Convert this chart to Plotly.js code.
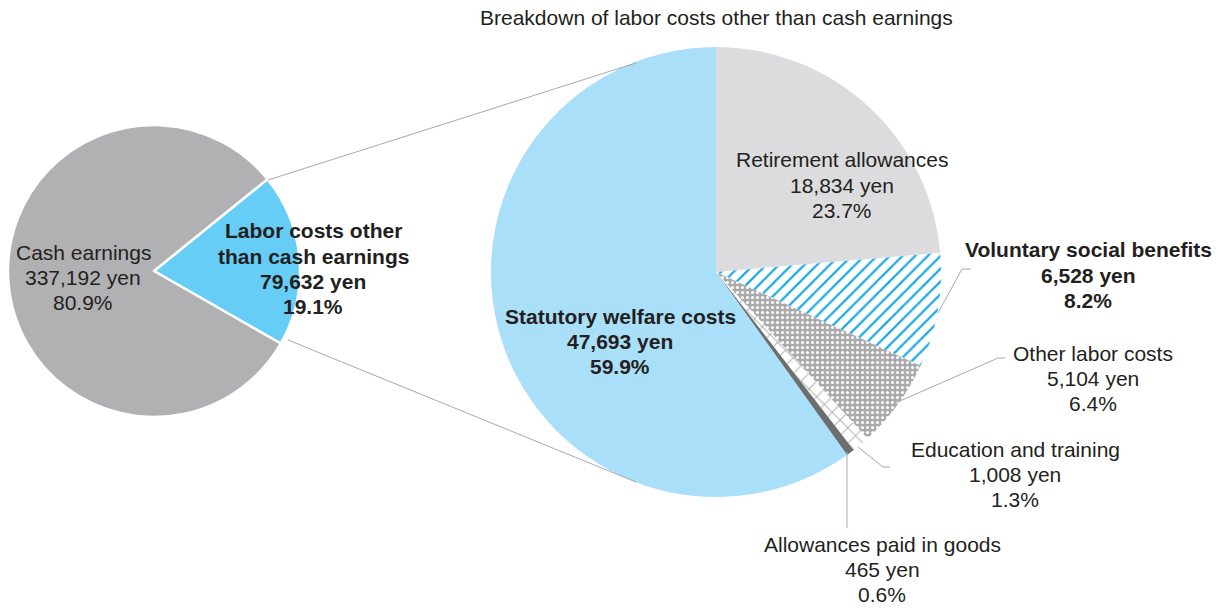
<!DOCTYPE html>
<html>
<head>
<meta charset="utf-8">
<script src="https://cdn.plot.ly/plotly-3.0.1.min.js"></script>
<style>
  html, body { margin: 0; padding: 0; background: #ffffff; }
  #chart { width: 1219px; height: 608px; }
</style>
</head>
<body>
<div id="chart"></div>
<script>
// ---- Data ----
const outerLabels = ["Labor costs other than cash earnings", "Cash earnings"];
const outerValues = [79632, 337192];
const outerPercents = ["19.1%", "80.9%"];

const breakdownLabels = ["Retirement allowances", "Voluntary social benefits", "Other labor costs",
  "Education and training", "Allowances paid in goods", "Statutory welfare costs"];
const breakdownValues = [18834, 6528, 5104, 1008, 465, 47693];
const breakdownPercents = ["23.7%", "8.2%", "6.4%", "1.3%", "0.6%", "59.9%"];

const chartTitle = "Breakdown of labor costs other than cash earnings";

// ---- Helpers ----
const W = 1219, H = 608;
const px = x => x / W;
const py = y => 1 - y / H;
const fmt = v => v.toLocaleString("en-US") + " yen";
const FONT = "Liberation Sans, Arial, Helvetica, sans-serif";
const TXT = "#231f20";
const FS = 21;
const LH = 25;

const outerTrace = {
  type: "pie",
  labels: outerLabels,
  values: outerValues,
  sort: false,
  direction: "clockwise",
  rotation: 51,
  textinfo: "none",
  hoverinfo: "skip",
  showlegend: false,
  domain: { x: [px(8), px(300)], y: [py(417), py(125)] },
  marker: { colors: ["#66cdf6", "#b1b1b3"], line: { color: "#ffffff", width: 2.5 } }
};

const innerTrace = {
  type: "pie",
  labels: breakdownLabels,
  values: breakdownValues,
  sort: false,
  direction: "clockwise",
  rotation: 0,
  textinfo: "none",
  hoverinfo: "skip",
  showlegend: false,
  domain: { x: [px(491), px(941)], y: [py(497), py(47)] },
  marker: {
    colors: ["#dcdcde", "#ffffff", "#aaaaac", "#ffffff", "#6d6e70", "#a9dff8"],
    line: { color: "#ffffff", width: 0 },
    pattern: {
      shape: ["", "/", ".", "x", "", ""],
      fgcolor: ["#dcdcde", "#1ba9e1", "#ffffff", "#b4b4b6", "#6d6e70", "#a9dff8"],
      bgcolor: ["#dcdcde", "#ffffff", "#aaaaac", "#ffffff", "#6d6e70", "#a9dff8"],
      size: [8, 9, 5, 11, 8, 8],
      solidity: [0.3, 0.25, 0.3, 0.18, 0.3, 0.3],
      fillmode: "replace"
    }
  }
};

// ---- Label blocks (position config: centre x, first-line y) ----
const labelBlocks = [
  { lines: [outerLabels[1], fmt(outerValues[1]), outerPercents[1]], x: 83, y: 252, bold: false },
  { lines: ["Labor costs other", "than cash earnings", fmt(outerValues[0]), outerPercents[0]], x: 313, y: 231, bold: true },
  { lines: [breakdownLabels[0], fmt(breakdownValues[0]), breakdownPercents[0]], x: 842, y: 160, bold: false },
  { lines: [breakdownLabels[1], fmt(breakdownValues[1]), breakdownPercents[1]], x: 1088, y: 250, bold: true },
  { lines: [breakdownLabels[2], fmt(breakdownValues[2]), breakdownPercents[2]], x: 1093, y: 353, bold: false },
  { lines: [breakdownLabels[3], fmt(breakdownValues[3]), breakdownPercents[3]], x: 1015, y: 449, bold: false },
  { lines: [breakdownLabels[4], fmt(breakdownValues[4]), breakdownPercents[4]], x: 882, y: 544, bold: false },
  { lines: [breakdownLabels[5], fmt(breakdownValues[5]), breakdownPercents[5]], x: 620, y: 316, bold: true }
];

const annotations = [];
labelBlocks.forEach(b => {
  b.lines.forEach((l, i) => {
    annotations.push({
      xref: "paper", yref: "paper",
      x: px(b.x), y: py(b.y + i * LH),
      xanchor: "center", yanchor: "middle",
      showarrow: false,
      text: b.bold ? "<b>" + l + "</b>" : l,
      font: { family: FONT, size: FS, color: TXT }
    });
  });
});

annotations.push({
  xref: "paper", yref: "paper",
  x: px(716), y: py(18),
  xanchor: "center", yanchor: "middle",
  showarrow: false,
  text: chartTitle,
  font: { family: FONT, size: FS, color: TXT }
});

// ---- Connector / leader lines ----
const lineStyle = { color: "#a7a9ac", width: 1 };
const polylines = [
  [[268, 180], [636, 63]],
  [[288, 340], [636, 482]],
  [[938, 313], [962, 269], [971, 269]],
  [[893, 404], [998, 358], [1005, 358]],
  [[858, 447], [883, 467], [890, 467]],
  [[847, 452], [847, 528]]
];
const shapes = polylines.map(pts => ({
  type: "path",
  xref: "paper", yref: "paper",
  path: pts.map((p, i) => (i ? "L" : "M") + px(p[0]) + "," + py(p[1])).join(" "),
  line: lineStyle
}));

const layout = {
  width: W, height: H,
  margin: { l: 0, r: 0, t: 0, b: 0 },
  paper_bgcolor: "#ffffff",
  plot_bgcolor: "#ffffff",
  showlegend: false,
  annotations: annotations,
  shapes: shapes,
  font: { family: FONT }
};

Plotly.newPlot("chart", [outerTrace, innerTrace], layout, { displayModeBar: false, staticPlot: true });
</script>
</body>
</html>
